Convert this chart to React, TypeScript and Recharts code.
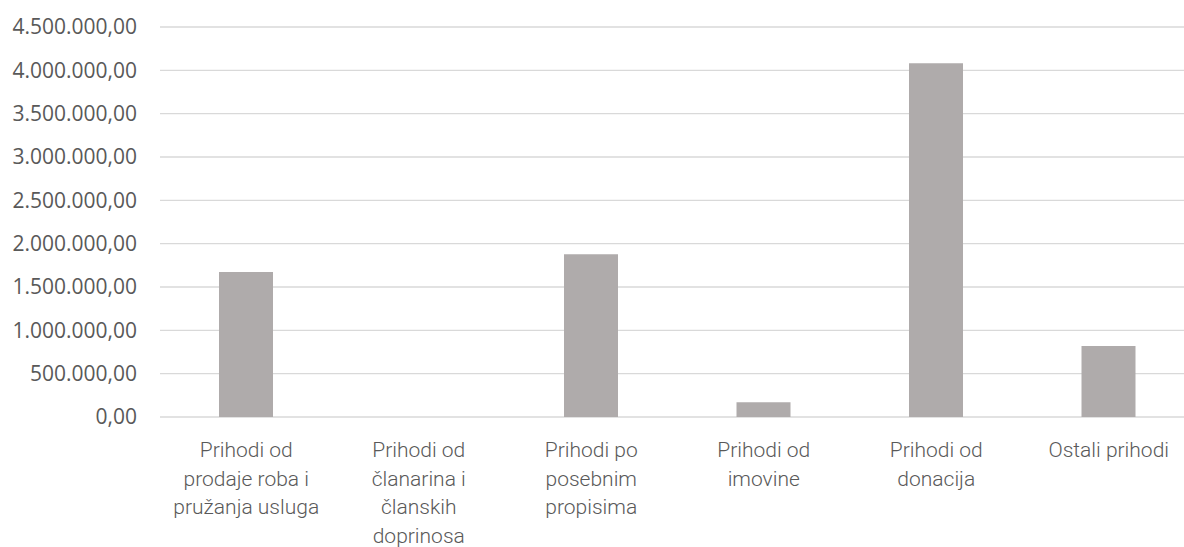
import React from "react";
import { BarChart, Bar, XAxis, YAxis, CartesianGrid } from "recharts";

const categories: string[][] = [
  ["Prihodi od", "prodaje roba i", "pružanja usluga"],
  ["Prihodi od", "članarina i", "članskih", "doprinosa"],
  ["Prihodi po", "posebnim", "propisima"],
  ["Prihodi od", "imovine"],
  ["Prihodi od", "donacija"],
  ["Ostali prihodi"],
];
const values: number[] = [1673000, 0, 1877000, 170000, 4081000, 819000];
const yTicks: number[] = [0, 500000, 1000000, 1500000, 2000000, 2500000, 3000000, 3500000, 4000000, 4500000];

const data = categories.map((c, i) => ({ name: String(i), lines: c, value: values[i] }));

function fmt(v: number): string {
  const fixed = v.toFixed(2);
  const [intPart, dec] = fixed.split(".");
  const withDots = intPart.replace(/\B(?=(\d{3})+(?!\d))/g, ".");
  return withDots + "," + dec;
}

const XTick = (props: any) => {
  const { x, y, payload } = props;
  const lines = categories[Number(payload.value)] || [];
  return (
    <text
      x={x}
      y={y}
      textAnchor="middle"
      fill="#595959"
      style={{ fontFamily: "Roboto", fontWeight: 300, fontSize: 21 }}
    >
      {lines.map((l, i) => (
        <tspan key={i} x={x} y={y + 40 + i * 28.5}>
          {l}
        </tspan>
      ))}
    </text>
  );
};

export default function App() {
  return (
    <div style={{ position: "absolute", left: 0, top: 0, width: 1184, height: 547, overflow: "hidden", background: "#fff" }}>
      <BarChart
        width={1200}
        height={547}
        data={data}
        margin={{ top: 27, right: 5, bottom: 0, left: 0 }}
        barSize={54}
      >
        <CartesianGrid vertical={false} stroke="#d9d9d9" strokeWidth={1.3} />
        <XAxis
          dataKey="name"
          axisLine={false}
          tickLine={false}
          tickSize={0}
          tickMargin={0}
          height={130}
          interval={0}
          tick={<XTick />}
        />
        <YAxis
          width={160}
          domain={[0, 4500000]}
          ticks={yTicks}
          axisLine={false}
          tickLine={false}
          tickSize={0}
          tickMargin={23}
          tickFormatter={fmt}
          tick={{ fill: "#595959", fontFamily: "Open Sans", fontSize: 21 }}
        />
        <Bar dataKey="value" fill="#afabab" isAnimationActive={false} />
      </BarChart>
    </div>
  );
}
